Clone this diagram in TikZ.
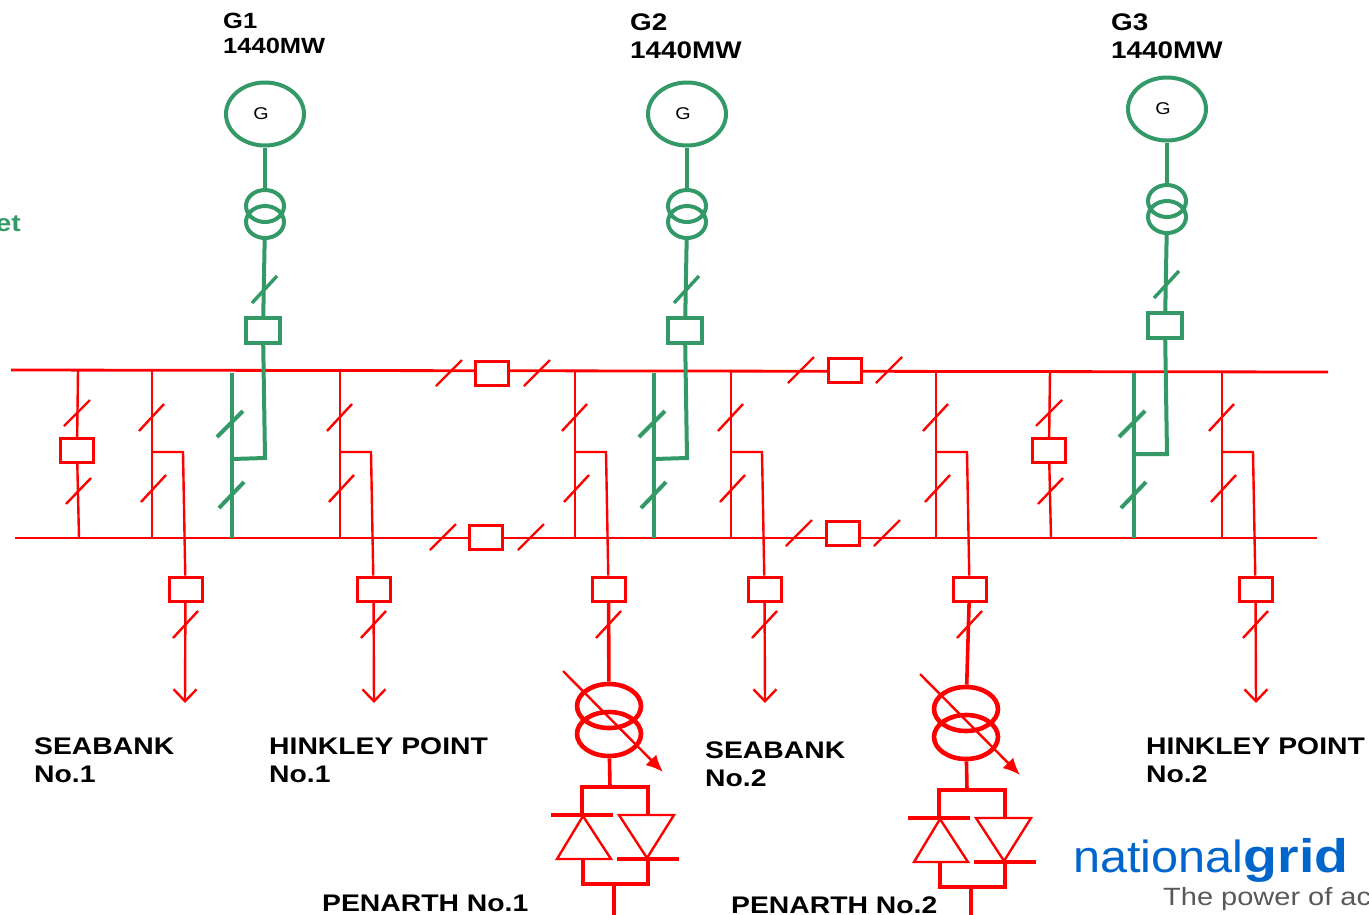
\documentclass[tikz,border=0pt]{standalone}
\usepackage{fontspec}
\usepackage{tikz}
\usetikzlibrary{arrows.meta,shapes.geometric}

\newfontfamily\plainfont[FakeStretch=1.18]{Liberation Sans}
\newfontfamily\ratingfont[FakeStretch=1.16]{Liberation Sans}
\newfontfamily\logofont[FakeStretch=1.08]{Liberation Sans}
\newfontfamily\gridfont[FakeStretch=1.18]{Liberation Sans}
\definecolor{genGreen}{HTML}{339966}
\definecolor{logoBlue}{HTML}{0066CC}

\tikzset{
  feeder/.style={draw=red, line width=2.4pt},
  bus/.style={draw=red, line width=2.8pt},
  heavy/.style={draw=red, line width=3.6pt},
  unit/.style={draw=genGreen, line width=4pt},
  breaker/.style={draw=red, line width=3pt, fill=white, rectangle, inner sep=0pt, minimum width=33pt, minimum height=24pt},
  unitbreaker/.style={draw=genGreen, line width=3.4pt, fill=white, rectangle, inner sep=0pt, minimum width=34pt, minimum height=25pt},
  winding/.style={draw=genGreen, line width=4pt, ellipse, inner sep=0pt, minimum width=38pt, minimum height=32pt},
  tapwinding/.style={draw=red, line width=4.6pt, ellipse, inner sep=0pt, minimum width=64pt, minimum height=44pt},
  machine/.style={draw=genGreen, line width=4pt, ellipse, inner sep=0pt, minimum width=78pt, minimum height=63pt},
  plate/.style={font=\plainfont\bfseries\fontsize{24}{28}\selectfont, anchor=base west, inner sep=0pt, align=left},
  rating/.style={font=\ratingfont\bfseries\fontsize{22}{25}\selectfont, anchor=base west, inner sep=0pt, align=left},
  bigrating/.style={rating, font=\ratingfont\bfseries\fontsize{24}{28}\selectfont}
}

\begin{document}
\begin{tikzpicture}[x=1pt,y=-1pt]
\clip (0,0) rectangle (1369,914);

% busbars
\coordinate (topL) at (11,370);
\coordinate (topR) at (1328,372);
\coordinate (botL) at (15,538);
\coordinate (botR) at (1317,538);
\draw [bus] (topL) -- (topR);
\draw [bus] (botL) -- (botR);

% bus section breakers
\node [breaker] (secT1) at (491.5,373.5) {};
\node [breaker] (secB1) at (485.5,537) {};
\node [breaker] (secT2) at (844.5,370) {};
\node [breaker] (secB2) at (842.5,533.5) {};
\foreach \x/\y in {449/373, 537/373, 443/537, 531/537, 801/370, 889/370, 799/533, 887/533}
  \draw [feeder] (\x-13,\y+13) -- (\x+13,\y-13);

% coupler bays
\foreach \n/\x in {1/78, 2/1050} {
  \coordinate (cplT\n) at (\x,371);
  \coordinate (cplB\n) at (\x+1,538);
  \node [breaker] (cpl\n) at (\x-1,450.5) {};
  \draw [feeder] (cplT\n) -- (cpl\n);
  \draw [feeder] (cpl\n) -- (cplB\n);
  \draw [feeder] (\x-14,426) -- (\x+12,400);
  \draw [feeder] (\x-12,504) -- (\x+13,478);
}

% feeder bays
\foreach \n/\x in {1/152, 2/340, 3/575, 4/731, 5/936, 6/1222} {
  \coordinate (fdT\n) at (\x,371);
  \coordinate (fdB\n) at (\x,538);
  \coordinate (tee\n) at (\x,452);
  \coordinate (drop\n) at (\x+31,452);
  \node [breaker] (fd\n) at (\x+33.5,589) {};
  \draw [feeder] (fdT\n) -- (fdB\n);
  \draw [feeder] (tee\n) -- (drop\n) -- (fd\n);
  \draw [feeder] (\x-13,431) -- (\x+12,404);
  \draw [feeder] (\x-11,502) -- (\x+14,475);
  \draw [feeder] (\x+21,638) -- (\x+46,611);
}

% outgoing circuits
\foreach \n/\x in {1/185, 2/374, 4/765, 6/1256} {
  \coordinate (load\n) at (\x,703);
  \draw [feeder, -{Straight Barb[length=12pt,width=23pt]}] (fd\n) -- (load\n);
}

% generators
\foreach \n/\x/\dy in {1/265/0, 2/687/0, 3/1167/-5} {
  \node [machine] (gen\n) at (\x,114+\dy) {};
  \node [font=\ratingfont\fontsize{17}{17}\selectfont, inner sep=0pt] (genG\n) at (\x-4,114+\dy) {G};
  \node [winding] (xfA\n) at (\x,206+\dy) {};
  \node [winding] (xfB\n) at (\x,222+\dy) {};
  \node [unitbreaker] (gcb\n) at (\x-2,330.5+\dy) {};
  \coordinate (gdrop\n) at (\x,458+\dy*0.8);
  \coordinate (gtee\n) at (\x-33,459+\dy);
  \coordinate (gT\n) at (\x-33,373);
  \coordinate (gB\n) at (\x-33,538);
  \draw [unit] (gen\n) -- (xfA\n);
  \draw [unit] (xfB\n) -- (gcb\n);
  \draw [unit] (gcb\n) -- (gdrop\n) -- (gtee\n);
  \draw [unit] (gT\n) -- (gB\n);
  \draw [unit, line width=3.4pt] (\x-13,303+\dy) -- (\x+12,276+\dy);
  \draw [unit] (\x-48,437) -- (\x-22,411);
  \draw [unit] (\x-46,508) -- (\x-21,482);
}

% converter stations
\foreach \n/\dx/\dy/\f in {1/0/0/3, 2/357/3/5} {
  \begin{scope}[shift={(\dx,\dy)}]
    \node [tapwinding] (tapA\n) at (609,706) {};
    \node [tapwinding] (tapB\n) at (609,734) {};
    \coordinate (tapS\n) at (563,671);
    \coordinate (tapE\n) at (663,772);
    \coordinate (railT\n) at (610,787);
    \coordinate (railTL\n) at (582,787);
    \coordinate (railTR\n) at (648,787);
    \coordinate (gateL\n) at (582,815);
    \coordinate (gateR\n) at (648,815);
    \coordinate (valveL\n) at (583,859);
    \coordinate (valveR\n) at (648,859);
    \coordinate (railBL\n) at (583,884);
    \coordinate (railBR\n) at (648,884);
    \coordinate (railB\n) at (614,884);
    \coordinate (cable\n) at (614,918);
    \draw [feeder, -{Latex[length=17pt,width=15pt]}] (tapS\n) -- (tapE\n);
    \draw [heavy] (tapB\n) -- (railT\n);
    \draw [heavy] (gateL\n) -- (railTL\n) -- (railTR\n) -- (gateR\n);
    \draw [heavy] (valveL\n) -- (railBL\n) -- (railBR\n) -- (valveR\n);
    \draw [heavy] (railB\n) -- (cable\n);
    \draw [feeder] (583,816) -- (557,859) -- (611,859) -- cycle;
    \draw [feeder] (619,815) -- (674,815) -- (647,858) -- cycle;
    \draw [heavy] (551,815) -- (613,815);
    \draw [heavy] (617,859) -- (679,859);
  \end{scope}
  \draw [heavy] (fd\f) -- (tapA\n);
}

% labels
\node [rating] (nameG1) at (223,53) {G1\\1440MW};
\node [bigrating] (nameG2) at (630,58) {G2\\1440MW};
\node [bigrating] (nameG3) at (1111,58) {G3\\1440MW};
\node [plate, text=genGreen, anchor=base east] (cutName) at (21,231) {et};
\node [plate] (nameSb1) at (34,782) {SEABANK\\No.1};
\node [plate] (nameHp1) at (269,782) {HINKLEY POINT\\No.1};
\node [plate] (nameSb2) at (705,786) {SEABANK\\No.2};
\node [plate] (nameHp2) at (1146,782) {HINKLEY POINT\\No.2};
\node [plate] (namePn1) at (322,911) {PENARTH No.1};
\node [plate] (namePn2) at (731,913) {PENARTH No.2};

% logo
\node [font=\logofont\fontsize{45}{45}\selectfont, text=logoBlue, anchor=base west, inner sep=0pt] (logoA) at (1073,872) {national};
\node [font=\gridfont\bfseries\fontsize{47}{47}\selectfont, text=logoBlue, anchor=base west, inner sep=0pt] (logoB) at (logoA.base east) {grid};
\node [font=\ratingfont\fontsize{25}{25}\selectfont, text=black!65, anchor=base west, inner sep=0pt] (logoC) at (1163,905) {The power of act};
\end{tikzpicture}
\end{document}
